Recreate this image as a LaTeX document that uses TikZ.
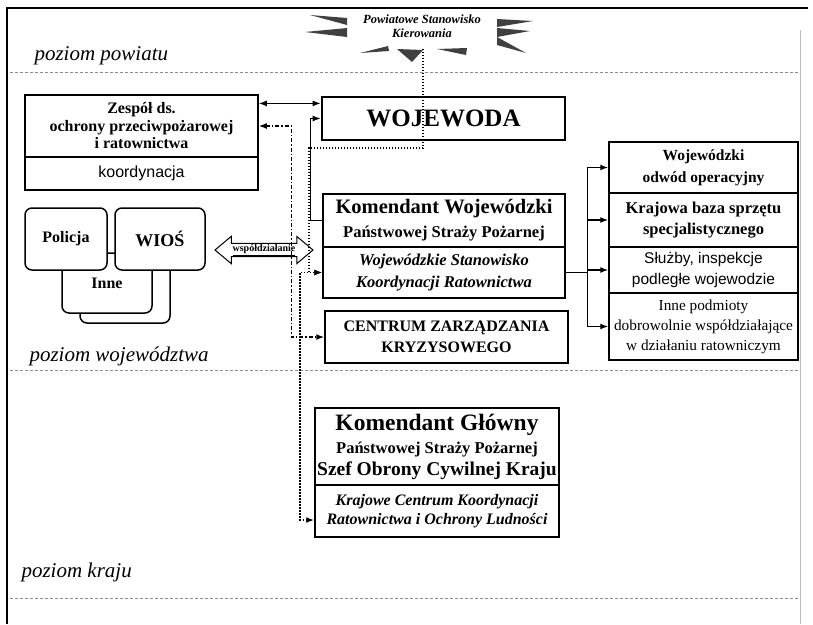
\documentclass[tikz,border=0pt]{standalone}
\usepackage{fontspec}
\setmainfont{Liberation Serif}
\setsansfont{Liberation Sans}
\usepackage{tikz}
\usetikzlibrary{arrows.meta,positioning,calc,shapes.arrows}
\newcommand{\fsz}[2]{\fontsize{#1}{#2}\selectfont}
\tikzset{
  box/.style={draw,line width=1.5pt,fill=white,align=center,inner sep=1pt},
  soft/.style={box,rounded corners=7pt},
  level/.style={anchor=west,font=\fsz{21}{24}\itshape},
  sepline/.style={black!45,line width=0.8pt,dash pattern=on 3pt off 2pt},
  link/.style={line width=1.4pt},
  dotpath/.style={line width=1.7pt,dash pattern=on 1.4pt off 1.6pt},
  dashdot/.style={line width=1.5pt,dash pattern=on 4pt off 2pt on 1.4pt off 2pt},
  spike/.style={fill=black!75},
  >={Latex[length=8pt,width=6pt]}
}
\begin{document}
\begin{tikzpicture}[x=1pt,y=-1pt]
  \useasboundingbox (0,0) rectangle (813,624);
  \draw[line width=1.4pt] (7,624) -- (7,8) -- (808,8);
  \draw[black!25,line width=0.8pt] (800,30) -- (800,624);
  \draw[sepline] (10,72) -- (800,72);
  \draw[sepline] (10,370) -- (800,370);
  \draw[sepline] (10,598) -- (800,598);

  \node[level] (lpow) at (31,56) {poziom powiatu};
  \node[level] (lwoj) at (26,356) {poziom województwa};
  \node[level] (lkra) at (18,572) {poziom kraju};

  \fill[spike] (310,15) -- (347,18) -- (347,25) -- cycle;
  \fill[spike] (305,32) -- (347,28) -- (347,37) -- cycle;
  \fill[spike] (360,53) -- (388,46) -- (389,51) -- cycle;
  \fill[spike] (397,49) -- (423,50) -- (412,62) -- cycle;
  \fill[spike] (437,49) -- (467,48) -- (466,55) -- cycle;
  \fill[spike] (497,19) -- (533,21) -- (497,27) -- cycle;
  \fill[spike] (497,28) -- (530,31) -- (497,37) -- cycle;
  \fill[spike] (497,37) -- (526,53) -- (497,45) -- cycle;
  \node[align=center,font=\fsz{12.5}{14}\bfseries\itshape] (psk) at (422,26)
    {Powiatowe Stanowisko\\Kierowania};

  \node[box,minimum width=233pt,minimum height=62pt,font=\fsz{16}{17.5}\bfseries] (zesp) at (141.5,126)
    {Zespół ds.\\ochrony przeciwpożarowej\\i ratownictwa};
  \node[box,minimum width=233pt,minimum height=33pt,font=\fsz{16}{18}\sffamily] (koord) at (141.5,173.5) {koordynacja};

  \node[soft,minimum width=90pt,minimum height=63pt] (inne2) at (125,291.5) {};
  \node[soft,minimum width=90pt,minimum height=60pt,font=\fsz{16}{18}\bfseries] (inne) at (107,283) {\raisebox{-3pt}{Inne}};
  \node[soft,minimum width=82pt,minimum height=62pt,font=\fsz{16}{18}\bfseries] (pol) at (66,239) {Policja};
  \node[soft,minimum width=90pt,minimum height=62pt,font=\fsz{18}{20}\bfseries] (wios) at (160,239) {WIOŚ};

  \node[draw,shape=double arrow,line width=1pt,fill=white,font=\fsz{10}{11}\bfseries,
    inner xsep=1pt,inner ysep=0.6pt,minimum height=98pt,
    double arrow head extend=7pt,double arrow tip angle=80] (wsp) at (264,250) {\underline{współdziałanie}};

  \node[box,line width=2.6pt,minimum width=243pt,minimum height=43pt,font=\fsz{25}{27}\bfseries] (woj) at (443.5,118.5) {WOJEWODA};
  \node[box,minimum width=242pt,minimum height=53pt,font=\fsz{16}{24}\bfseries] (kw) at (444,220.5)
    {{\fsz{20.5}{24}Komendant Wojewódzki}\\{\fsz{16.5}{24}Państwowej Straży Pożarnej}};
  \node[box,minimum width=242pt,minimum height=51pt,font=\fsz{16.5}{22}\bfseries\itshape] (wskr) at (444,272.5)
    {Wojewódzkie Stanowisko\\Koordynacji Ratownictwa};
  \node[box,minimum width=243pt,minimum height=52pt,font=\fsz{16}{21}\bfseries] (czk) at (446.5,337)
    {CENTRUM ZARZĄDZANIA\\KRYZYSOWEGO};
  \node[box,minimum width=244pt,minimum height=77pt,font=\fsz{16}{22}\bfseries] (kg) at (437,446.5)
    {{\fsz{23.5}{24}Komendant Główny}\\[1pt]{\fsz{16.5}{22}Państwowej Straży Pożarnej}\\{\fsz{19.5}{22}Szef Obrony Cywilnej Kraju}};
  \node[box,minimum width=244pt,minimum height=52pt,font=\fsz{16}{19}\bfseries\itshape] (kckr) at (437,511)
    {Krajowe Centrum Koordynacji\\Ratownictwa i Ochrony Ludności};

  \node[box,minimum width=189pt,minimum height=51pt,font=\fsz{15.5}{22}\bfseries] (r1) at (703.5,167.5)
    {Wojewódzki\\odwód operacyjny};
  \node[box,minimum width=189pt,minimum height=54pt,font=\fsz{16.5}{21}\bfseries] (r2) at (703.5,220)
    {Krajowa baza sprzętu\\specjalistycznego};
  \node[box,minimum width=189pt,minimum height=46pt,font=\fsz{15.5}{21}\sffamily] (r3) at (703.5,270)
    {Służby, inspekcje\\podległe wojewodzie};
  \node[box,minimum width=189pt,minimum height=67pt,font=\fsz{15.3}{20}] (r4) at (703.5,326.5)
    {Inne podmioty\\dobrowolnie współdziałające\\w działaniu ratowniczym};

  \draw[link,<->] (woj.173) -- (woj.173 -| zesp.east);
  \draw[link,->] (kw.west) -- ++(-12,0) |- (woj.west);
  \draw[dotpath,->] (psk.south) ++(1,8) |- ([shift={(-12,7)}]woj.south west) |- (wskr.west);
  \draw[dotpath,<->] ([yshift=-9pt]kckr.west) -- ++(-14,0) |- (wskr.west);
  \draw[dashdot,<->] (zesp.east) -| ([xshift=-33pt]czk.west) -- (czk.west);
  \draw[link] (wskr.east) -- ++(22,0) coordinate (fan);
  \foreach \r in {r1,r2,r3,r4}
    \draw[link,->] (fan) |- (\r.west);
\end{tikzpicture}
\end{document}
